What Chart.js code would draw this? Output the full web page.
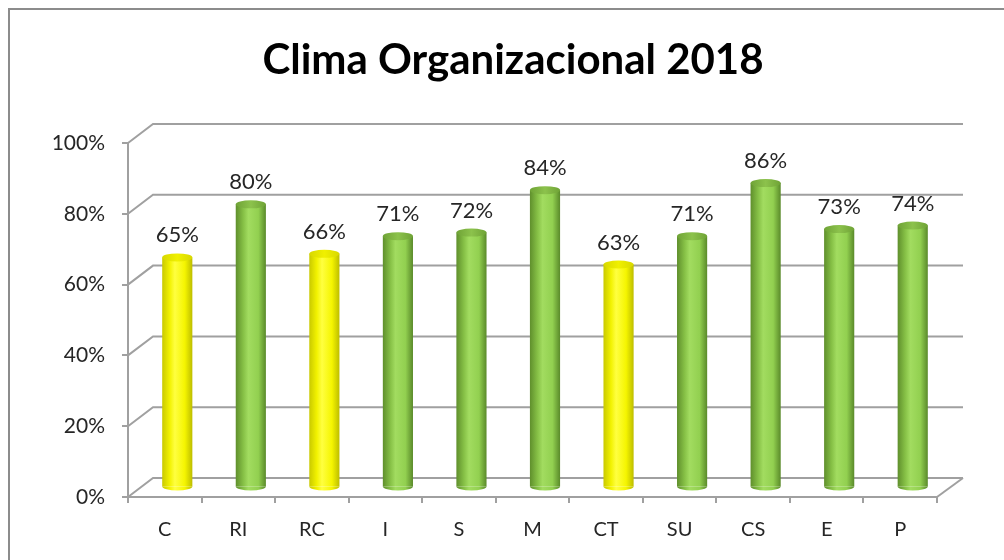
<!DOCTYPE html>
<html>
<head>
<meta charset="utf-8">
<script src="https://cdn.jsdelivr.net/npm/chart.js@4.4.1/dist/chart.umd.min.js"></script>
<style>
  html, body { margin: 0; padding: 0; background: #fff; }
  #wrap { position: relative; width: 1004px; height: 560px; overflow: hidden; }
  #frame { position: absolute; left: 8px; top: 8px; width: 1100px; height: 600px; border: 2px solid #8c8c8c; box-sizing: border-box; }
  canvas { position: absolute; left: 0; top: 0; }
</style>
</head>
<body>
<div id="wrap">
  <div id="frame"></div>
  <canvas id="chart" width="1004" height="560"></canvas>
</div>
<script>
// data
const categories = ['C', 'RI', 'RC', 'I', 'S', 'M', 'CT', 'SU', 'CS', 'E', 'P'];
const values = [65, 80, 66, 71, 72, 84, 63, 71, 86, 73, 74];
const barColors = ['yellow', 'green', 'yellow', 'green', 'green', 'green', 'yellow', 'green', 'green', 'green', 'green'];
const yTicks = [0, 20, 40, 60, 80, 100];

// 3d look
const WALL_DX = 25, WALL_DY = -19;
const BAR_DX = 12.5, BAR_DY = -9.5;
const BAR_FRAC = 0.41;
const GRID = '#a0a0a0';

const shades = {
  green: { stops: ['#5f8f2c', '#86c046', '#a2dc60', '#92d050', '#5a8a2a'], top: ['#6fa336', '#8cc24c'] },
  yellow: { stops: ['#c9c900', '#f2f200', '#ffff40', '#f5f500', '#bdbd00'], top: ['#d8d800', '#f0f000'] }
};

function bodyGradient(ctx, cx, w, kind) {
  const g = ctx.createLinearGradient(cx - w / 2, 0, cx + w / 2, 0);
  const s = shades[kind].stops;
  g.addColorStop(0, s[0]);
  g.addColorStop(0.25, s[1]);
  g.addColorStop(0.42, s[2]);
  g.addColorStop(0.75, s[3]);
  g.addColorStop(1, s[4]);
  return g;
}

const cylinder3d = {
  id: 'cylinder3d',
  beforeDatasetsDraw(chart) {
    const ctx = chart.ctx;
    const area = chart.chartArea;
    const y = chart.scales.y;
    ctx.save();
    ctx.strokeStyle = GRID;
    ctx.lineWidth = 2;
    yTicks.forEach(function(v) {
      const py = y.getPixelForValue(v);
      ctx.beginPath();
      ctx.moveTo(area.left, py);
      ctx.lineTo(area.left + WALL_DX, py + WALL_DY);
      ctx.lineTo(area.right + WALL_DX + 1, py + WALL_DY);
      ctx.stroke();
    });
    // floor right edge
    ctx.beginPath();
    ctx.moveTo(area.right, area.bottom);
    ctx.lineTo(area.right + WALL_DX + 1, area.bottom + WALL_DY);
    ctx.stroke();
    ctx.restore();

    ctx.save();
    ctx.translate(BAR_DX, BAR_DY);
  },
  afterDatasetsDraw(chart) {
    const ctx = chart.ctx;
    const meta = chart.getDatasetMeta(0);
    meta.data.forEach(function(el, i) {
      const kind = barColors[i];
      const w = el.width;
      // bottom
      ctx.fillStyle = bodyGradient(ctx, el.x, w, kind);
      ctx.beginPath();
      ctx.ellipse(el.x, el.base, w / 2, 4, 0, 0, Math.PI);
      ctx.fill();
      // top
      const t = ctx.createLinearGradient(el.x - w / 2, 0, el.x + w / 2, 0);
      t.addColorStop(0, shades[kind].top[0]);
      t.addColorStop(0.5, shades[kind].top[1]);
      t.addColorStop(1, shades[kind].top[0]);
      ctx.fillStyle = t;
      ctx.beginPath();
      ctx.ellipse(el.x, el.y, w / 2, 4, 0, 0, Math.PI * 2);
      ctx.fill();
      // value label
      ctx.fillStyle = '#262626';
      ctx.font = '22px Lato';
      ctx.textAlign = 'center';
      ctx.textBaseline = 'middle';
      ctx.fillText(values[i] + '%', el.x, el.y - 22);
    });
    ctx.restore();
  }
};

new Chart(document.getElementById('chart'), {
  type: 'bar',
  data: {
    labels: categories,
    datasets: [{
      data: values,
      clip: false,
      borderWidth: 0,
      categoryPercentage: 1,
      barPercentage: BAR_FRAC,
      backgroundColor: function(c) {
        const chart = c.chart;
        if (c.type !== 'data' || !chart.chartArea) return '#92d050';
        const x = chart.scales.x;
        const cx = x.getPixelForValue(c.dataIndex);
        const w = (x.getPixelForValue(1) - x.getPixelForValue(0)) * BAR_FRAC;
        return bodyGradient(chart.ctx, cx, w, barColors[c.dataIndex]);
      }
    }]
  },
  options: {
    responsive: false,
    animation: false,
    layout: { padding: { left: 22, right: 0, top: 0, bottom: 0 } },
    plugins: {
      legend: { display: false },
      tooltip: { enabled: false },
      title: {
        display: true,
        text: 'Clima Organizacional 2018',
        color: '#000',
        font: { family: 'Lato', size: 42, weight: 'bold', lineHeight: 1.2 },
        padding: { top: 35, bottom: 57.6 }
      }
    },
    scales: {
      x: {
        afterFit: function(s) { s.height = 63; },
        grid: { drawOnChartArea: false, drawTicks: true, tickLength: 6, color: GRID, lineWidth: 2 },
        border: { display: true, color: GRID, width: 2 },
        ticks: { color: '#262626', font: { family: 'Lato', size: 20 }, padding: 15 }
      },
      y: {
        min: 0,
        max: 100,
        afterFit: function(s) { s.width = 106; },
        afterBuildTicks: function(s) { s.ticks = yTicks.map(function(v) { return { value: v }; }); },
        grid: { drawOnChartArea: false, drawTicks: true, tickLength: 6, color: GRID, lineWidth: 2 },
        border: { display: true, color: GRID, width: 2 },
        ticks: {
          color: '#262626',
          font: { family: 'Lato', size: 21 },
          padding: 17,
          callback: function(v) { return v + '%'; }
        }
      },
      y2: {
        position: 'right',
        min: 0,
        max: 100,
        afterFit: function(s) { s.width = 67; },
        grid: { display: false },
        border: { display: false },
        ticks: { display: false }
      }
    }
  },
  plugins: [cylinder3d]
});
</script>
</body>
</html>
